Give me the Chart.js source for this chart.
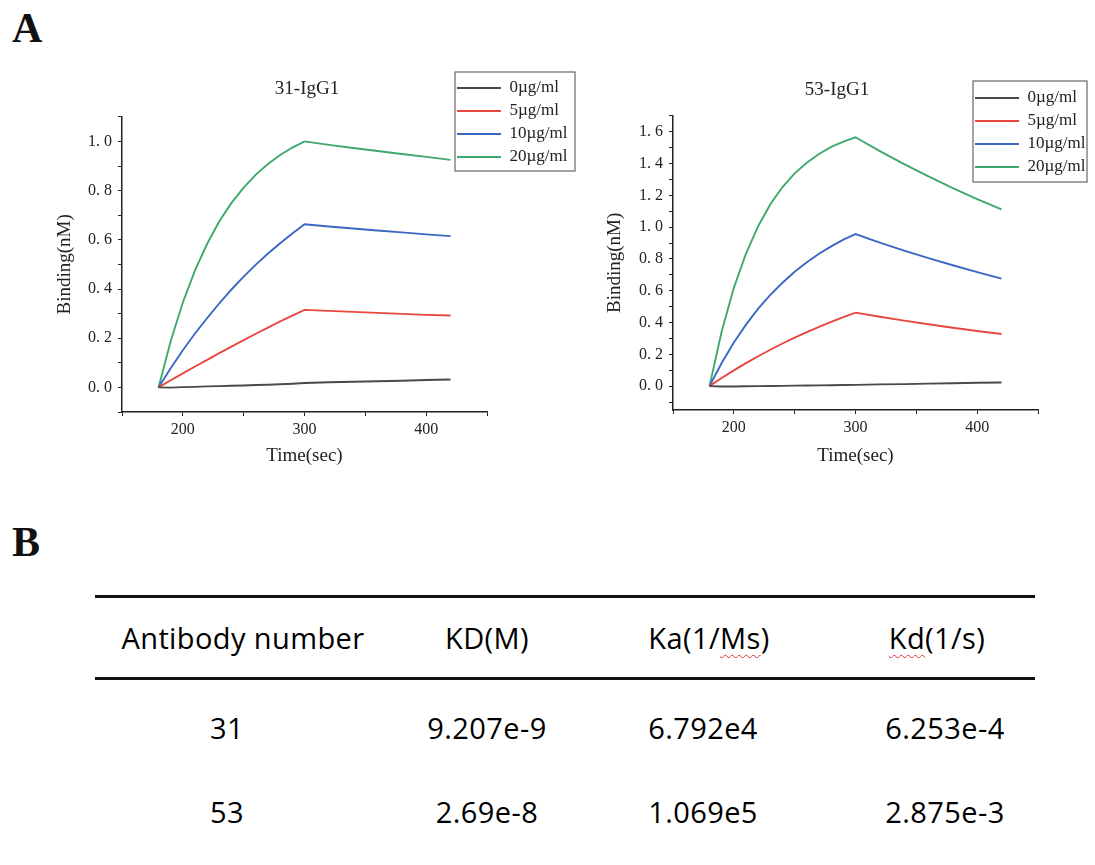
<!DOCTYPE html>
<html>
<head>
<meta charset="utf-8">
<script src="https://cdn.jsdelivr.net/npm/chart.js@4.4.1/dist/chart.umd.min.js"></script>
<style>
  body { margin:0; background:#fff; }
  #page { position:relative; width:1095px; height:865px; overflow:hidden; }
  .panel { position:absolute; font-family:"Liberation Serif", serif; font-weight:bold; font-size:42px; color:#111; }
  .cv { position:absolute; }
  .rule { position:absolute; left:95px; width:940px; height:3px; background:#111; }
  .cell { position:absolute; font-family:"Open Sans", sans-serif; font-size:29px; letter-spacing:0.4px; color:#000; transform:translate(-50%,-50%); white-space:nowrap; }
  .spell { text-decoration:underline wavy #e03030; text-decoration-thickness:1px; text-underline-offset:5px; }
</style>
</head>
<body>
<div id="page">
  <div class="panel" style="left:12px;top:4px;">A</div>
  <div class="panel" style="left:12px;top:518px;">B</div>
  <div class="cv" style="left:0;top:60px;width:595px;height:420px;"><canvas id="c31"></canvas></div>
  <div class="cv" style="left:560px;top:60px;width:535px;height:420px;"><canvas id="c53"></canvas></div>
  <div class="rule" style="top:595px;"></div>
  <div class="rule" style="top:677px;"></div>
  <div id="table"></div>
</div>
<script>
// time points (sec): association 180-300, dissociation 300-420
const times = [180,190,200,210,220,230,240,250,260,270,280,290,300,320,340,360,380,400,420];
const concLabels = ["0µg/ml","5µg/ml","10µg/ml","20µg/ml"];
const lineColors = ["#4a4a4a","#e8473f","#3b68c2","#3fa86c"];

// 31-IgG1
const ab31_0  = [0,-0.001,0.001,0.002,0.004,0.005,0.007,0.008,0.010,0.011,0.013,0.015,0.018,0.021,0.023,0.025,0.027,0.030,0.032];
const ab31_5  = [0,0.029,0.057,0.085,0.112,0.139,0.166,0.192,0.218,0.243,0.268,0.292,0.315,0.311,0.307,0.303,0.299,0.295,0.292];
const ab31_10 = [0,0.078,0.151,0.219,0.282,0.342,0.398,0.450,0.499,0.544,0.586,0.626,0.663,0.654,0.646,0.638,0.630,0.622,0.615];
const ab31_20 = [0,0.188,0.345,0.476,0.584,0.675,0.750,0.812,0.865,0.908,0.945,0.975,1.000,0.986,0.973,0.961,0.949,0.937,0.925];

// 53-IgG1
const ab53_0  = [0,-0.002,-0.002,-0.001,0,0.001,0.002,0.003,0.004,0.005,0.006,0.007,0.008,0.011,0.013,0.016,0.018,0.021,0.023];
const ab53_5  = [0,0.051,0.099,0.145,0.188,0.229,0.268,0.305,0.340,0.373,0.404,0.434,0.462,0.436,0.412,0.389,0.367,0.347,0.328];
const ab53_10 = [0,0.145,0.274,0.387,0.487,0.574,0.650,0.719,0.779,0.833,0.879,0.921,0.956,0.903,0.852,0.805,0.760,0.717,0.676];
const ab53_20 = [0,0.344,0.618,0.834,1.006,1.144,1.252,1.338,1.405,1.460,1.504,1.538,1.565,1.478,1.396,1.319,1.245,1.176,1.111];

// axis ticks (every tick gets a mark, only the listed ones get a label)
const xTicks = [150,200,250,300,350,400,450];
const xLabels = [200,300,400];
const yTicks31 = [-0.1,0,0.1,0.2,0.3,0.4,0.5,0.6,0.7,0.8,0.9,1.0,1.1];
const yLabels31 = [0,0.2,0.4,0.6,0.8,1.0];
const yTicks53 = [-0.1,0,0.1,0.2,0.3,0.4,0.5,0.6,0.7,0.8,0.9,1.0,1.1,1.2,1.3,1.4,1.5,1.6,1.7];
const yLabels53 = [0,0.2,0.4,0.6,0.8,1.0,1.2,1.4,1.6];

// table B
const tableHead = ["Antibody number","KD(M)","Ka(1/Ms)","Kd(1/s)"];
const tableRows = [
  ["31","9.207e-9","6.792e4","6.253e-4"],
  ["53","2.69e-8","1.069e5","2.875e-3"]
];

const serif = "'Liberation Serif', 'Times New Roman', serif";
const ink = "#222";

// puts the legend at a fixed spot and draws its frame
const legendSpot = {
  id: "legendSpot",
  beforeDraw(chart, args, o) {
    const lg = chart.legend;
    lg.left = o.x; lg.top = o.y;
    lg.right = o.x + lg.width; lg.bottom = o.y + 400;
  },
  afterDraw(chart, args, o) {
    const ctx = chart.ctx;
    const [x0,y0,x1,y1] = o.frame;
    ctx.save();
    ctx.strokeStyle = "#666";
    ctx.lineWidth = 1.2;
    ctx.strokeRect(x0, y0, x1 - x0, y1 - y0);
    ctx.restore();
  }
};

const near = (list, v) => list.some(l => Math.abs(l - v) < 1e-6);

function makeChart(id, title, series, cfg) {
  const datasets = series.map((vals, i) => ({
    label: concLabels[i],
    data: times.map((t, j) => ({x: t, y: vals[j]})),
    borderColor: lineColors[i],
    backgroundColor: lineColors[i],
    borderWidth: 1.9,
    pointRadius: 0,
    tension: 0
  }));

  new Chart(document.getElementById(id), {
    type: "line",
    data: { datasets },
    plugins: [legendSpot],
    options: {
      responsive: true,
      maintainAspectRatio: false,
      animation: false,
      layout: { padding: { left: cfg.padL, right: cfg.padR, top: 0, bottom: 8 } },
      plugins: {
        title: {
          display: true, text: title, color: ink,
          font: { family: serif, size: 19, weight: "normal" },
          padding: { top: cfg.titleTop, bottom: cfg.titleBottom }
        },
        legend: {
          position: "chartArea", align: "start",
          labels: {
            usePointStyle: true, pointStyle: "line", pointStyleWidth: 44,
            color: ink, padding: 6,
            font: { family: serif, size: 17 }
          }
        },
        tooltip: { enabled: false },
        legendSpot: cfg.legend
      },
      scales: {
        x: {
          type: "linear", min: 150, max: 450,
          afterFit: s => { s.height = cfg.xH; },
          afterBuildTicks: s => { s.ticks = xTicks.map(v => ({value: v})); },
          border: { color: ink, width: 1.5 },
          grid: { drawOnChartArea: false, tickLength: 4, color: ink },
          ticks: {
            color: ink, padding: 4, maxRotation: 0, autoSkip: false,
            font: { family: serif, size: 16 },
            callback: v => near(xLabels, v) ? String(v) : ""
          },
          title: { display: true, text: "Time(sec)", color: ink, font: { family: serif, size: 19 }, padding: { bottom: 5 } }
        },
        y: {
          min: cfg.yMin, max: cfg.yMax,
          afterFit: s => { s.width = cfg.yW; },
          afterBuildTicks: s => { s.ticks = cfg.yTicks.map(v => ({value: v})); },
          border: { color: ink, width: 1.5 },
          grid: { drawOnChartArea: false, tickLength: 4, color: ink },
          ticks: {
            color: ink, padding: 6, autoSkip: false,
            font: { family: serif, size: 16 },
            callback: v => near(cfg.yLabels, v) ? v.toFixed(1).replace(".", ". ") : ""
          },
          title: { display: true, text: "Binding(nM)", color: ink, font: { family: serif, size: 19 }, padding: { top: 0 } }
        },
        // empty spacer so the title centres like the original
        y2: {
          position: "right",
          afterFit: s => { s.width = cfg.spacer; },
          border: { display: false },
          grid: { display: false },
          ticks: { display: false }
        }
      }
    }
  });
}

makeChart("c31", "31-IgG1", [ab31_0, ab31_5, ab31_10, ab31_20], {
  padL: 54, padR: 35, spacer: 73, yW: 68, xH: 60, titleTop: 18, titleBottom: 16,
  yMin: -0.1, yMax: 1.1, yTicks: yTicks31, yLabels: yLabels31,
  legend: { x: 451, y: 13.5, frame: [455, 12, 575, 111] }
});

makeChart("c53", "53-IgG1", [ab53_0, ab53_5, ab53_10, ab53_20], {
  padL: 44, padR: 25, spacer: 32, yW: 69, xH: 62, titleTop: 19, titleBottom: 14,
  yMin: -0.15, yMax: 1.7, yTicks: yTicks53, yLabels: yLabels53,
  legend: { x: 409, y: 23.5, frame: [413, 21, 527, 122] }
});

// table B
const headX = [243, 487, 709, 937];
const cellX = [227, 487, 703, 945];
const rowY = [727, 811];
const table = document.getElementById("table");
function addCell(html, x, y) {
  const d = document.createElement("div");
  d.className = "cell";
  d.style.left = x + "px";
  d.style.top = y + "px";
  d.innerHTML = html;
  table.appendChild(d);
}
tableHead.forEach((h, i) => {
  let html = h;
  if (h === "Ka(1/Ms)") html = 'Ka(1/<span class="spell">Ms</span>)';
  if (h === "Kd(1/s)") html = '<span class="spell">Kd</span>(1/s)';
  addCell(html, headX[i], 637);
});
tableRows.forEach((row, r) => row.forEach((v, i) => addCell(v, cellX[i], rowY[r])));
</script>
</body>
</html>
